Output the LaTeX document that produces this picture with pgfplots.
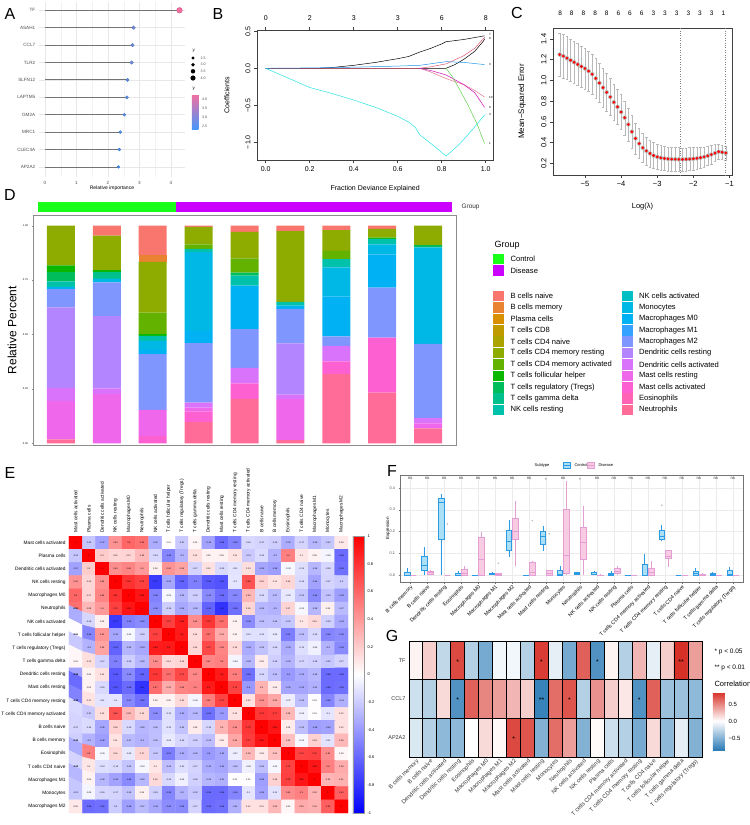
\documentclass[border=0pt]{standalone}
\usepackage{fontspec}
\setmainfont{Liberation Sans}
\usepackage{pgfplots}
\usepackage{pgfplotstable}
\pgfplotsset{compat=1.18}
\usepgfplotslibrary{statistics}
\newcommand\fs[1]{\fontsize{#1}{#1}\selectfont}
\definecolor{cBn}{HTML}{F8766D}\definecolor{cBm}{HTML}{EA8331}\definecolor{cPc}{HTML}{D89000}
\definecolor{cCe}{HTML}{C09B00}\definecolor{cCn}{HTML}{ABA300}\definecolor{cCr}{HTML}{8EAB00}
\definecolor{cCa}{HTML}{64B200}\definecolor{cTf}{HTML}{0CB702}\definecolor{cTr}{HTML}{00BD5C}
\definecolor{cTg}{HTML}{00C08B}\definecolor{cNr}{HTML}{00C1AA}\definecolor{cNa}{HTML}{00BFC4}
\definecolor{cMo}{HTML}{00B8E5}\definecolor{cMz}{HTML}{00B1F4}\definecolor{cMi}{HTML}{35A2FF}
\definecolor{cMt}{HTML}{7F96FF}\definecolor{cDr}{HTML}{B385FF}\definecolor{cDa}{HTML}{D973FC}
\definecolor{cSr}{HTML}{EF67EB}\definecolor{cSa}{HTML}{FD61D1}\definecolor{cEo}{HTML}{FF63B6}
\definecolor{cNe}{HTML}{FF6C98}
\definecolor{gcon}{HTML}{1AFF1A}\definecolor{gdis}{HTML}{CC00FF}
\definecolor{rred}{HTML}{DF536B}\definecolor{rgreen}{HTML}{61D04F}\definecolor{rblue}{HTML}{2297E6}
\definecolor{rcyan}{HTML}{28E2E5}\definecolor{rmag}{HTML}{CD0BBC}
\definecolor{ctlD}{HTML}{2D9BE3}\definecolor{ctlF}{HTML}{AADFF5}
\definecolor{disD}{HTML}{E39FD3}\definecolor{disF}{HTML}{F9CBE3}
\pgfplotsset{
  /pgf/number format/assume math mode=true,
  every axis/.append style={scale only axis, anchor=north west},
  rbase/.style={axis line style={black!75, line width=0.45pt}, tick style={black!75, line width=0.45pt},
    tick align=outside, major tick length=3pt, xtick pos=bottom, ytick pos=left,
    ticklabel style={font=\fs{7}}, label style={font=\fs{7}}, yticklabel style={rotate=90, anchor=south}},
  ctl/.style={draw=ctlD, fill=ctlF, line width=0.4pt},
  dis/.style={draw=disD, fill=disF, line width=0.4pt},
}
\newcommand\bp[7]{\addplot[#1, boxplot prepared={draw direction=y, draw position=#2, lower whisker=#3, lower quartile=#4, median=#5, upper quartile=#6, upper whisker=#7}] coordinates {};}

\pgfplotstableread{
g v
1 2.33
2 2.36
3 2.39
4 2.52
5 2.60
6 2.62
7 2.75
8 2.78
9 2.81
10 4.27
}\Atab

\pgfplotstableread{
x y e
-5.7 1.25 0.21
-5.6 1.235 0.21
-5.5 1.215 0.208
-5.4 1.195 0.206
-5.3 1.175 0.204
-5.2 1.155 0.202
-5.1 1.135 0.2
-5.0 1.115 0.198
-4.9 1.09 0.195
-4.8 1.06 0.192
-4.7 1.02 0.19
-4.6 0.975 0.187
-4.5 0.93 0.184
-4.4 0.885 0.181
-4.3 0.84 0.178
-4.2 0.79 0.175
-4.1 0.745 0.172
-4.0 0.695 0.168
-3.9 0.64 0.164
-3.8 0.575 0.16
-3.7 0.505 0.155
-3.6 0.44 0.15
-3.5 0.39 0.145
-3.4 0.35 0.14
-3.3 0.32 0.135
-3.2 0.295 0.13
-3.1 0.275 0.126
-3.0 0.262 0.123
-2.9 0.253 0.12
-2.8 0.247 0.118
-2.7 0.243 0.116
-2.6 0.24 0.115
-2.5 0.239 0.114
-2.4 0.238 0.113
-2.3 0.238 0.112
-2.2 0.239 0.111
-2.1 0.241 0.11
-2.0 0.244 0.108
-1.9 0.248 0.105
-1.8 0.254 0.102
-1.7 0.262 0.098
-1.6 0.272 0.093
-1.5 0.284 0.088
-1.4 0.298 0.082
-1.3 0.312 0.076
-1.2 0.307 0.07
-1.1 0.3 0.066
}\Ctab

\pgfplotstableread{
x Bn Bm Pc Ce Cn Cr Ca Tf Tr Tg Nr Na Mo Mz Mi Mt Dr Da Sr Sa Eo Ne
1 0 0 0 0 0 0.183 0 0.03 0.043 0 0.026 0 0 0.01 0 0.084 0.369 0.061 0.176 0 0 0.018
2 0.046 0 0 0 0 0.158 0 0.011 0 0.028 0 0 0.018 0 0 0.155 0.332 0.026 0.226 0 0 0
3 0.135 0.031 0 0 0 0.234 0.098 0.008 0 0 0.023 0 0.043 0.018 0 0.257 0 0 0.119 0.034 0 0
4 0.006 0 0 0 0 0.08 0.021 0 0 0 0.015 0 0.361 0.057 0 0.273 0 0.023 0.018 0.049 0 0.097
5 0.028 0 0 0 0 0.122 0.066 0 0.014 0 0.046 0 0 0.199 0 0.178 0 0.072 0 0.071 0 0.204
6 0.025 0 0 0 0 0.325 0 0 0 0 0.018 0 0 0.014 0 0.159 0.236 0.02 0.188 0 0 0.015
7 0.02 0 0 0 0 0.096 0.038 0 0 0 0.038 0 0.133 0.184 0 0.043 0 0.072 0 0.058 0 0.318
8 0.015 0 0 0 0 0.04 0 0.006 0 0 0.025 0 0.046 0.153 0 0.23 0 0 0 0.252 0 0.233
9 0 0 0 0 0 0.089 0 0 0.011 0 0 0 0.443 0 0 0.34 0 0.026 0.022 0 0 0.069
}\Dtab

\pgfplotstableread[row sep=\\, header=false]{
1\\-0.22\\-0.37\\0.43\\0.6\\0.56\\-0.32\\0.01\\-0.21\\0.03\\-0.36\\-0.58\\-0.49\\-0.15\\-0.17\\-0.19\\-0.32\\-0.17\\-0.28\\-0.22\\0.09\\
-0.22\\1\\0.2\\0.16\\0.17\\0.28\\-0.16\\-0.48\\-0.3\\0.13\\0.05\\0.05\\0.11\\-0.21\\-0.14\\-0.3\\0.5\\0.1\\0.05\\-0.04\\-0.58\\
-0.37\\0.2\\1\\0.44\\0.48\\0.4\\0.06\\0.42\\0.36\\-0.17\\0.12\\-0.15\\-0.11\\0.13\\-0.35\\-0.38\\-0.03\\-0.13\\-0.28\\-0.16\\-0.56\\
0.43\\0.16\\0.44\\1\\0.81\\0.75\\-0.77\\-0.35\\-0.61\\-0.5\\-0.65\\-0.67\\-0.1\\0.68\\0.18\\0.11\\0.16\\-0.14\\-0.36\\-0.17\\-0.2\\
0.6\\0.17\\0.48\\0.81\\1\\0.92\\-0.49\\-0.03\\-0.29\\-0.19\\-0.46\\-0.58\\-0.47\\0.28\\-0.15\\-0.27\\-0.09\\-0.23\\-0.46\\-0.24\\-0.38\\
0.56\\0.28\\0.4\\0.75\\0.92\\1\\-0.46\\-0.19\\-0.34\\-0.28\\-0.61\\-0.8\\-0.56\\0.16\\-0.28\\-0.3\\0.17\\-0.03\\-0.28\\0.06\\-0.27\\
-0.32\\-0.16\\0.06\\-0.77\\-0.49\\-0.46\\1\\0.75\\0.89\\0.45\\0.79\\0.57\\0.05\\-0.45\\-0.26\\-0.25\\-0.22\\0.1\\0.15\\-0.18\\-0.34\\
0.01\\-0.48\\0.42\\-0.35\\-0.03\\-0.19\\0.75\\1\\0.9\\0.14\\0.57\\0.33\\0.05\\-0.12\\-0.12\\-0.09\\-0.51\\-0.26\\-0.15\\-0.48\\-0.45\\
-0.21\\-0.3\\0.36\\-0.61\\-0.29\\-0.34\\0.89\\0.9\\1\\0.16\\0.72\\0.48\\0.15\\-0.33\\-0.24\\-0.16\\-0.33\\-0.13\\-0.06\\-0.3\\-0.46\\
0.03\\0.13\\-0.17\\-0.5\\-0.19\\-0.28\\0.45\\0.14\\0.16\\1\\0.47\\0.5\\-0.04\\-0.28\\0.08\\-0.19\\-0.29\\-0.17\\-0.18\\-0.22\\-0.17\\
-0.36\\0.05\\0.12\\-0.65\\-0.46\\-0.61\\0.79\\0.57\\0.72\\0.47\\1\\0.9\\0.51\\-0.56\\-0.16\\-0.26\\-0.4\\-0.33\\-0.28\\-0.58\\-0.58\\
-0.58\\0.05\\-0.15\\-0.67\\-0.58\\-0.8\\0.57\\0.33\\0.48\\0.5\\0.9\\1\\0.74\\-0.4\\0.3\\0.08\\-0.35\\-0.35\\-0.31\\-0.58\\-0.56\\
-0.49\\0.11\\-0.11\\-0.1\\-0.47\\-0.56\\0.05\\0.05\\0.15\\-0.04\\0.51\\0.74\\1\\0.12\\0.44\\0.35\\-0.07\\-0.25\\0.01\\-0.48\\-0.31\\
-0.15\\-0.21\\0.13\\0.68\\0.28\\0.16\\-0.45\\-0.12\\-0.33\\-0.28\\-0.56\\-0.4\\0.12\\1\\0.79\\0.77\\0.28\\-0.06\\0.01\\-0.1\\0.12\\
-0.17\\-0.14\\-0.35\\0.18\\-0.15\\-0.28\\-0.26\\-0.12\\-0.24\\0.08\\-0.16\\0.3\\0.44\\0.79\\1\\0.92\\0.08\\-0.25\\-0.38\\-0.36\\0.12\\
-0.19\\-0.3\\-0.38\\0.11\\-0.27\\-0.3\\-0.25\\-0.09\\-0.16\\-0.19\\-0.26\\0.08\\0.35\\0.77\\0.92\\1\\0.25\\-0.03\\0.18\\-0.11\\0.28\\
-0.32\\0.5\\-0.03\\0.16\\-0.09\\0.17\\-0.22\\-0.51\\-0.33\\-0.29\\-0.4\\-0.35\\-0.07\\0.28\\0.08\\0.25\\1\\0.74\\0.75\\0.45\\0.03\\
-0.17\\0.1\\-0.13\\-0.14\\-0.23\\-0.03\\0.1\\-0.26\\-0.13\\-0.17\\-0.33\\-0.35\\-0.25\\-0.06\\-0.25\\-0.03\\0.74\\1\\0.92\\0.5\\0.33\\
-0.28\\0.05\\-0.28\\-0.36\\-0.46\\-0.28\\0.15\\-0.15\\-0.06\\-0.18\\-0.28\\-0.31\\0.01\\0.01\\-0.38\\0.18\\0.75\\0.92\\1\\0.29\\0.31\\
-0.22\\-0.04\\-0.16\\-0.17\\-0.24\\0.06\\-0.18\\-0.48\\-0.3\\-0.22\\-0.58\\-0.58\\-0.48\\-0.1\\-0.36\\-0.11\\0.45\\0.5\\0.29\\1\\0.63\\
0.09\\-0.58\\-0.56\\-0.2\\-0.38\\-0.27\\-0.34\\-0.45\\-0.46\\-0.17\\-0.58\\-0.56\\-0.31\\0.12\\0.12\\0.28\\0.03\\0.33\\0.31\\0.63\\1\\
}\Etab

\pgfplotstableread[row sep=\\, header=false]{
0.05\\0.2\\-0.25\\0.75\\-0.3\\-0.55\\-0.05\\-0.05\\-0.3\\0.8\\-0.1\\-0.55\\0.65\\-0.7\\0.05\\-0.3\\0.3\\-0.1\\0.2\\0.85\\0.4\\
-0.2\\-0.3\\0.15\\-0.7\\0.65\\0.5\\0.4\\0.3\\0.2\\-0.8\\0.6\\0.7\\-0.3\\0.45\\0.2\\0.1\\-0.7\\0.65\\-0.4\\-0.4\\-0.45\\
-0.15\\-0.3\\-0.45\\-0.45\\0\\0.15\\0.03\\0.75\\0.7\\-0.5\\0.6\\0.4\\-0.5\\0.02\\-0.2\\-0.3\\-0.55\\0.15\\-0.45\\-0.1\\-0.5\\
}\Gtab

\begin{document}
\begin{tikzpicture}
\useasboundingbox (0,0) rectangle (750pt,-825pt);
% ================= A
\begin{axis}[at={(38.7pt,-1.6pt)}, width=146.5pt, height=175.8pt,
  xmin=-0.2, xmax=4.45, ymin=0.4, ymax=10.5,
  axis line style={draw=none}, tick style={draw=none}, major tick length=0pt,
  xtick={0,1,2,3,4}, minor xtick={0.5,1.5,2.5,3.5}, ytick={1,...,10},
  yticklabels={AP2A2,CLEC4A,MRC1,GM2A,LAPTM5,SLFN12,TLR2,CCL7,ASAH1,TF},
  xmajorgrids, ymajorgrids, xminorgrids,
  major grid style={black!9, line width=0.5pt}, minor grid style={black!5, line width=0.3pt},
  ticklabel style={font=\fs{4.6}, text=black!70},
  xlabel={Relative importance}, xlabel style={font=\fs{5}, at={(axis description cs:0.5,0)}, anchor=center, yshift=-10.6pt},
  colormap={ab}{rgb255(0cm)=(70,150,250) rgb255(1cm)=(245,110,160)},
  point meta min=2.33, point meta max=4.27,
  colorbar, colorbar style={at={(1.0464,0.4744)}, anchor=north west, width=6.5pt, height=35pt,
    ytick={2.5,3,3.5,4}, yticklabels={2.5,3.0,3.5,4.0}, yticklabel style={font=\fs{3.6}, text=black!70},
    axis line style={draw=none}, major tick length=0pt},
  clip=false]
\addplot[xcomb, black!55, line width=0.9pt] table[x=v,y=g]{\Atab};
\addplot[scatter, only marks, mark=*, point meta=x, visualization depends on={\thisrow{v} \as \rawv},
  scatter/@pre marker code/.append style={/tikz/mark size=0.72*\rawv-0.28}] table[x=v,y=g]{\Atab};
\end{axis}
\node[font=\fs{4.5}, anchor=west] at (189pt,-51pt) {y};
\fill[black] (193pt,-58pt) circle (1.52pt); \node[font=\fs{3.6}, anchor=west, text=black!70] at (197pt,-58pt) {2.5};
\fill[black] (193pt,-64.7pt) circle (1.88pt); \node[font=\fs{3.6}, anchor=west, text=black!70] at (197pt,-64.7pt) {3.0};
\fill[black] (193pt,-71.3pt) circle (2.24pt); \node[font=\fs{3.6}, anchor=west, text=black!70] at (197pt,-71.3pt) {3.5};
\fill[black] (193pt,-78pt) circle (2.6pt); \node[font=\fs{3.6}, anchor=west, text=black!70] at (197pt,-78pt) {4.0};
\node[font=\fs{4.5}, anchor=west] at (189pt,-89pt) {y};
\node[font=\fs{16}] at (10pt,-14pt) {A};
% ================= B
\begin{axis}[rbase, at={(256.9pt,-29.9pt)}, width=236.5pt, height=130.3pt,
  xmin=-0.04, xmax=1.035, ymin=-1.245, ymax=0.52, xtick pos=both,
  xtick={0,0.2,0.4,0.6,0.8,1}, xticklabels={0.0,0.2,0.4,0.6,0.8,1.0},
  ytick={-1,-0.5,0,0.5}, yticklabels={−1.0,−0.5,0.0,0.5},
  xlabel={Fraction Deviance Explained}, ylabel={Coefficients},
  xlabel style={at={(axis description cs:0.5,0)}, anchor=center, yshift=-28pt},
  ylabel style={at={(axis description cs:0,0.5)}, anchor=center, yshift=30pt},
  clip=false]
\addplot[black, line width=0.5pt] coordinates {(0,0) (0.25,0) (0.3,0.01) (0.4,0.04) (0.5,0.08) (0.6,0.13) (0.65,0.16) (0.7,0.22) (0.75,0.27) (0.8,0.33) (0.82,0.36) (0.9,0.39) (0.995,0.44)};
\addplot[black, line width=0.5pt] coordinates {(0,0) (0.82,0) (0.86,0.05) (0.9,0.12) (0.95,0.23) (0.99,0.37) (0.995,0.40)};
\addplot[rred, line width=0.5pt] coordinates {(0,0) (0.7,0) (0.75,0.02) (0.82,0.06) (0.9,0.17) (0.95,0.27) (0.995,0.42)};
\addplot[rblue, line width=0.5pt] coordinates {(0,0) (0.2,0.005) (0.4,0.015) (0.6,0.03) (0.7,0.04) (0.82,0.09) (0.9,0.08) (0.995,0.05)};
\addplot[rred!80, line width=0.5pt] coordinates {(0.7,0) (0.75,-0.05) (0.82,-0.14) (0.9,-0.22) (0.95,-0.3) (0.995,-0.39)};
\addplot[rmag, line width=0.5pt] coordinates {(0.7,0) (0.75,-0.03) (0.82,-0.09) (0.9,-0.22) (0.95,-0.33) (0.995,-0.53)};
\addplot[rgreen, line width=0.5pt] coordinates {(0.82,0) (0.85,-0.12) (0.88,-0.28) (0.92,-0.5) (0.96,-0.75) (0.995,-1.02)};
\addplot[rcyan, line width=0.5pt] coordinates {(0,0) (0.1,-0.13) (0.2,-0.26) (0.3,-0.34) (0.4,-0.43) (0.5,-0.53) (0.6,-0.65) (0.65,-0.73) (0.68,-0.8) (0.7,-0.9) (0.76,-1.04) (0.82,-1.19) (0.88,-1.03) (0.94,-0.83) (0.995,-0.63)};
\addplot[draw=none, mark=none, nodes near coords, point meta=explicit symbolic,
  every node near coord/.append style={anchor=center, yshift=12pt, font=\fs{7}}]
  table[meta=t, row sep=\\]{x y t\\ 0 0.52 0\\ 0.2 0.52 2\\ 0.4 0.52 3\\ 0.6 0.52 3\\ 0.8 0.52 6\\ 1 0.52 8\\};
\addplot[draw=none, mark=none, nodes near coords, point meta=explicit symbolic,
  every node near coord/.append style={anchor=west, font=\fs{3}}]
  table[meta=t, row sep=\\]{x y t\\ 1.0 0.455 7\\ 1.0 0.405 8\\ 1.0 0.05 3\\ 1.0 -0.39 10\\ 1.0 -0.53 9\\ 1.0 -0.63 4\\ 1.0 -1.02 1\\};
\end{axis}
\node[font=\fs{16}] at (218pt,-14pt) {B};
% ================= C
\begin{axis}[rbase, at={(553pt,-28pt)}, width=179pt, height=147pt,
  xmin=-5.886, xmax=-0.928, ymin=0.087, ymax=1.506,
  ticklabel style={font=\fs{7.5}},
  xtick={-5,-4,-3,-2,-1}, xticklabels={−5,−4,−3,−2,−1},
  ytick={0.2,0.4,0.6,0.8,1.0,1.2,1.4}, yticklabels={0.2,0.4,0.6,0.8,1.0,1.2,1.4},
  xlabel={Log(λ)}, ylabel={Mean−Squared Error},
  xlabel style={font=\fs{7.5}, at={(axis description cs:0.5,0)}, anchor=center, yshift=-32pt},
  ylabel style={font=\fs{8}, at={(axis description cs:0,0.5)}, anchor=center, yshift=31pt},
  clip=false]
\addplot[black!28, only marks, mark=none, error bars/.cd, y dir=both, y explicit,
  error bar style={black!28, line width=0.35pt}, error mark options={rotate=90, mark size=1.3pt, black!28}]
  table[x=x, y=y, y error=e]{\Ctab};
\addplot[only marks, mark=*, mark size=1.2pt, mark options={fill=red, draw=red}] table[x=x,y=y]{\Ctab};
\addplot[dotted, black!50, line width=0.4pt] coordinates {(-2.37,0.087) (-2.37,1.506)};
\addplot[dotted, black!50, line width=0.4pt] coordinates {(-1.11,0.087) (-1.11,1.506)};
\addplot[draw=none, mark=none, nodes near coords, point meta=explicit symbolic,
  every node near coord/.append style={anchor=center, yshift=15pt, font=\fs{6.5}}]
  table[meta=t, row sep=\\]{x y t\\ -5.69 1.506 8\\ -5.367 1.506 8\\ -5.044 1.506 8\\ -4.721 1.506 8\\ -4.398 1.506 8\\ -4.075 1.506 6\\ -3.752 1.506 6\\ -3.429 1.506 6\\ -3.106 1.506 3\\ -2.783 1.506 3\\ -2.46 1.506 3\\ -2.137 1.506 3\\ -1.814 1.506 3\\ -1.491 1.506 3\\ -1.168 1.506 1\\};
\end{axis}
\node[font=\fs{16}] at (517pt,-13pt) {C};
% ================= D
\fill[gcon] (38pt,-202pt) rectangle (176pt,-212pt);
\fill[gdis] (176pt,-202pt) rectangle (452pt,-212pt);
\node[font=\fs{6.5}, anchor=west, text=black!80] at (458pt,-207pt) {Group};
\begin{axis}[at={(33pt,-215pt)}, width=423pt, height=230pt,
  xmin=0.39, xmax=9.61, ymin=-0.008, ymax=1.049, ybar stacked, bar width=28pt,
  xtick=\empty, ytick={0,0.25,0.5,0.75,1}, yticklabels={0.00,0.25,0.50,0.75,1.00},
  yticklabel style={font=\fs{2.6}}, axis line style={black!45, line width=0.5pt},
  ytick style={black!45}, major tick length=1.5pt, tick align=outside, ytick pos=left,
  ylabel={Relative Percent}, ylabel style={font=\fs{12}, at={(axis description cs:0,0.5)}, anchor=center, yshift=21pt}]
\pgfplotsinvokeforeach{Ne,Eo,Sa,Sr,Da,Dr,Mt,Mi,Mz,Mo,Na,Nr,Tg,Tr,Tf,Ca,Cr,Cn,Ce,Pc,Bm,Bn}{
  \addplot[fill=c#1, draw=none] table[x=x, y=#1]{\Dtab};}
\end{axis}
\node[font=\fs{16}] at (10pt,-195pt) {D};
\node[font=\fs{9}, anchor=west] at (491pt,-245pt) {Group};
\fill[gcon] (493.3pt,-253.8pt) rectangle (504.3pt,-264.4pt); \node[font=\fs{7.6}, anchor=west] at (507pt,-259pt) {Control};
\fill[gdis] (493.3pt,-265.2pt) rectangle (504.3pt,-275.8pt); \node[font=\fs{7.6}, anchor=west] at (507pt,-270.5pt) {Disease};
\foreach \c/\t [count=\i from 0] in {cBn/B cells naive, cBm/B cells memory, cPc/Plasma cells, cCe/T cells CD8, cCn/T cells CD4 naive, cCr/T cells CD4 memory resting, cCa/T cells CD4 memory activated, cTf/T cells follicular helper, cTr/T cells regulatory (Tregs), cTg/T cells gamma delta, cNr/NK cells resting}{
  \fill[\c] (493.3pt,{-290.7pt-11.4pt*\i}) rectangle ++(11pt,-10.6pt);
  \node[font=\fs{7.6}, anchor=west] at (507pt,{-296pt-11.4pt*\i}) {\t};}
\foreach \c/\t [count=\i from 0] in {cNa/NK cells activated, cMo/Monocytes, cMz/Macrophages M0, cMi/Macrophages M1, cMt/Macrophages M2, cDr/Dendritic cells resting, cDa/Dendritic cells activated, cSr/Mast cells resting, cSa/Mast cells activated, cEo/Eosinophils, cNe/Neutrophils}{
  \fill[\c] (621.7pt,{-290.7pt-11.4pt*\i}) rectangle ++(11pt,-10.6pt);
  \node[font=\fs{7.6}, anchor=west] at (635.5pt,{-296pt-11.4pt*\i}) {\t};}
% ================= E
\begin{axis}[at={(69pt,-536pt)}, width=279pt, height=277pt,
  xmin=-0.5, xmax=20.5, ymin=-0.5, ymax=20.5, y dir=reverse,
  axis line style={draw=none}, tick style={draw=none}, major tick length=0pt,
  xtick={0,...,20}, ytick={0,...,20}, xticklabel pos=upper,
  xticklabels={Mast cells activated,Plasma cells,Dendritic cells activated,NK cells resting,Macrophages M0,Neutrophils,NK cells activated,T cells follicular helper,T cells regulatory (Tregs),T cells gamma delta,Dendritic cells resting,Mast cells resting,T cells CD4 memory resting,T cells CD4 memory activated,B cells naive,B cells memory,Eosinophils,T cells CD4 naive,Macrophages M1,Monocytes,Macrophages M2},
  yticklabels={Mast cells activated,Plasma cells,Dendritic cells activated,NK cells resting,Macrophages M0,Neutrophils,NK cells activated,T cells follicular helper,T cells regulatory (Tregs),T cells gamma delta,Dendritic cells resting,Mast cells resting,T cells CD4 memory resting,T cells CD4 memory activated,B cells naive,B cells memory,Eosinophils,T cells CD4 naive,Macrophages M1,Monocytes,Macrophages M2},
  xticklabel style={rotate=90, anchor=west, font=\fs{4.8}}, yticklabel style={font=\fs{4.8}},
  colormap={bwr}{rgb(0cm)=(0,0,1) rgb(1cm)=(1,1,1) rgb(2cm)=(1,0,0)},
  point meta min=-1, point meta max=1,
  colorbar, colorbar style={at={(1.0179,1)}, anchor=north west, width=11pt,
    ytick={-1,-0.8,-0.6,-0.4,-0.2,0,0.2,0.4,0.6,0.8,1}, yticklabel style={font=\fs{4}},
    major tick length=0pt, axis line style={black!40, line width=0.3pt}}]
\addplot[matrix plot*, mesh/cols=21, point meta=explicit]
  table[x index=0, y index=0, x expr={mod(\coordindex,21)}, y expr={floor(\coordindex/21)}, meta index=0]{\Etab};
\addplot[draw=none, mark=none, point meta=explicit,
  nodes near coords={\pgfmathprintnumber[fixed,precision=2]{\pgfplotspointmeta}},
  every node near coord/.append style={anchor=center, font=\fs{2.2}, inner sep=0pt}]
  table[x index=0, y index=0, x expr={mod(\coordindex,21)}, y expr={floor(\coordindex/21)}, meta index=0]{\Etab};
\end{axis}
\node[font=\fs{16}] at (10pt,-473pt) {E};
% ================= F
\node[font=\fs{4}] at (542pt,-465pt) {Subtype};
\filldraw[ctlD, fill=ctlF, line width=0.4pt] (563pt,-462pt) rectangle (570pt,-468pt);
\draw[ctlD, line width=0.6pt] (563pt,-465pt) -- (570pt,-465pt);
\node[font=\fs{4}, anchor=west] at (571pt,-465pt) {Control};
\filldraw[disD, fill=disF, line width=0.4pt] (587pt,-462pt) rectangle (594pt,-468pt);
\draw[disD, line width=0.6pt] (587pt,-465pt) -- (594pt,-465pt);
\node[font=\fs{4}, anchor=west] at (595pt,-465pt) {Disease};
\begin{axis}[at={(400pt,-475pt)}, width=343pt, height=107pt,
  xmin=-0.6, xmax=19.6, ymin=-0.03, ymax=0.458,
  boxplot/draw direction=y, boxplot/box extend=0.33, boxplot/whisker extend=0, boxplot/every median/.style={line width=0.8pt},
  xtick={0,...,19}, ytick={0,0.1,0.2,0.3,0.4}, yticklabels={0.0,0.1,0.2,0.3,0.4},
  xticklabels={B cells memory,B cells naive,Dendritic cells resting,Eosinophils,Macrophages M0,Macrophages M1,Macrophages M2,Mast cells activated,Mast cells resting,Monocytes,Neutrophils,NK cells activated,NK cells resting,Plasma cells,T cells CD4 memory activated,T cells CD4 memory resting,T cells CD4 naive,T cells follicular helper,T cells gamma delta,T cells regulatory (Tregs)},
  xticklabel style={rotate=45, anchor=north east, font=\fs{5.2}, inner sep=1pt},
  yticklabel style={font=\fs{3.8}, text=black!70},
  grid=major, grid style={black!8, line width=0.3pt},
  axis line style={black!55, line width=0.4pt}, tick style={black!55}, major tick length=1.5pt, tick align=outside,
  xtick pos=bottom, ytick pos=left,
  ylabel={Expression}, ylabel style={font=\fs{4.5}, at={(axis description cs:0,0.5)}, anchor=center, yshift=12pt}]
\bp{ctl}{-0.19}{0}{0}{0.002}{0.015}{0.033}\bp{dis}{0.19}{0}{0}{0}{0}{0.001}
\bp{ctl}{0.81}{0}{0.023}{0.045}{0.088}{0.13}\bp{dis}{1.19}{0}{0.007}{0.013}{0.02}{0.024}
\bp{ctl}{1.81}{0}{0.165}{0.332}{0.35}{0.37}\bp{dis}{2.19}{0}{0}{0}{0}{0.001}
\bp{ctl}{2.81}{0}{0}{0.002}{0.01}{0.018}\bp{dis}{3.19}{0}{0.002}{0.008}{0.028}{0.045}
\bp{ctl}{3.81}{0}{0}{0}{0.001}{0.002}\bp{dis}{4.19}{0}{0}{0.073}{0.175}{0.198}
\bp{ctl}{4.81}{0.005}{0.007}{0.01}{0.012}{0.014}\bp{dis}{5.19}{0}{0}{0.005}{0.01}{0.012}
\bp{ctl}{5.81}{0.083}{0.115}{0.155}{0.205}{0.255}\bp{dis}{6.19}{0.045}{0.163}{0.203}{0.262}{0.34}
\bp{ctl}{6.81}{0}{0}{0}{0.001}{0.002}\bp{dis}{7.19}{0}{0.002}{0.012}{0.06}{0.068}
\bp{ctl}{7.81}{0.11}{0.143}{0.177}{0.2}{0.227}\bp{dis}{8.19}{0}{0}{0.008}{0.023}{0.023}
\bp{ctl}{8.81}{0}{0}{0.005}{0.022}{0.043}\bp{dis}{9.19}{0}{0.008}{0.09}{0.3}{0.43}
\bp{ctl}{9.81}{0}{0.005}{0.01}{0.015}{0.017}\bp{dis}{10.19}{0}{0.072}{0.15}{0.222}{0.318}
\bp{ctl}{10.81}{0}{0.007}{0.012}{0.017}{0.018}\bp{dis}{11.19}{0}{0}{0}{0.002}{0.008}
\bp{ctl}{11.81}{0}{0}{0.003}{0.01}{0.02}\bp{dis}{12.19}{0.004}{0.01}{0.02}{0.032}{0.043}
\bp{ctl}{12.81}{0}{0}{0}{0}{0.001}\bp{dis}{13.19}{0}{0}{0}{0}{0.001}
\bp{ctl}{13.81}{0}{0}{0.001}{0.05}{0.098}\bp{dis}{14.19}{0}{0.003}{0.013}{0.035}{0.065}
\bp{ctl}{14.81}{0.155}{0.165}{0.178}{0.205}{0.232}\bp{dis}{15.19}{0.04}{0.077}{0.088}{0.115}{0.118}
\bp{ctl}{15.81}{0}{0}{0}{0}{0.001}\bp{dis}{16.19}{0}{0}{0}{0}{0.001}
\bp{ctl}{16.81}{0}{0.003}{0.01}{0.018}{0.032}\bp{dis}{17.19}{0}{0}{0.002}{0.005}{0.01}
\bp{ctl}{17.81}{0}{0}{0.003}{0.01}{0.017}\bp{dis}{18.19}{0}{0}{0}{0}{0.001}
\bp{ctl}{18.81}{0}{0.002}{0.006}{0.022}{0.038}\bp{dis}{19.19}{0}{0}{0}{0}{0.001}
\addplot[only marks, mark=*, mark size=0.6pt, black!25] coordinates {(2.19,0.235) (5.19,0.055) (7.19,0.25) (8.19,0.19) (14.81,0.32)};
\addplot[draw=none, mark=none, nodes near coords, point meta=explicit symbolic,
  every node near coord/.append style={anchor=center, font=\fs{4.2}, text=black!80}]
  table[meta=t, row sep=\\]{x y t\\ 0 0.441 ns\\ 1 0.441 ns\\ 2 0.441 ns\\ 3 0.441 ns\\ 4 0.441 ns\\ 5 0.441 ns\\ 6 0.441 ns\\ 7 0.441 ns\\ 8 0.436 *\\ 9 0.441 ns\\ 10 0.436 *\\ 11 0.441 ns\\ 12 0.441 ns\\ 13 0.441 ns\\ 14 0.441 ns\\ 15 0.441 ns\\ 16 0.441 ns\\ 17 0.441 ns\\ 18 0.441 ns\\ 19 0.441 ns\\};
\end{axis}
\node[font=\fs{16}] at (392pt,-471pt) {F};
% ================= G
\begin{axis}[at={(409pt,-641pt)}, width=293pt, height=116pt,
  xmin=-0.5, xmax=20.5, ymin=-0.5, ymax=2.5, y dir=reverse, axis on top,
  xtick={0,...,20}, ytick={0,1,2}, yticklabels={TF,CCL7,AP2A2},
  xticklabels={B cells memory,B cells naive,Dendritic cells activated,Dendritic cells resting,Eosinophils,Macrophages M0,Macrophages M1,Macrophages M2,Mast cells activated,Mast cells resting,Monocytes,Neutrophils,NK cells activated,NK cells resting,Plasma cells,T cells CD4 memory activated,T cells CD4 memory resting,T cells CD4 naive,T cells follicular helper,T cells gamma delta,T cells regulatory (Tregs)},
  minor xtick={-0.5,0.5,...,20.5}, minor ytick={-0.5,0.5,1.5,2.5},
  grid=minor, minor grid style={black, line width=1pt},
  major tick length=0pt, minor tick length=0pt, tick style={draw=none},
  axis line style={black, line width=1pt},
  xticklabel style={rotate=45, anchor=north east, font=\fs{5.8}, text=black!80, inner sep=1pt},
  yticklabel style={font=\fs{5.5}, text=black!80},
  colormap={rdbu}{rgb255(0cm)=(44,123,182) rgb255(1cm)=(255,255,255) rgb255(2cm)=(215,48,39)},
  point meta min=-0.85, point meta max=0.85,
  colorbar, colorbar style={at={(1.0375,0.5603)}, anchor=north west, width=12pt, height=58pt,
    ytick={-0.5,0,0.5}, yticklabels={−0.5,0.0,0.5}, yticklabel style={font=\fs{6}},
    major tick length=0pt, axis line style={draw=none}, grid=none}]
\addplot[matrix plot*, mesh/cols=21, point meta=explicit]
  table[x index=0, y index=0, x expr={mod(\coordindex,21)}, y expr={floor(\coordindex/21)}, meta index=0]{\Gtab};
\addplot[draw=none, mark=none, nodes near coords, point meta=explicit symbolic,
  every node near coord/.append style={anchor=center, font=\fs{7}, yshift=-1.5pt}]
  table[meta=t, row sep=\\]{x y t\\ 3 0 *\\ 9 0 *\\ 13 0 *\\ 19 0 **\\ 3 1 *\\ 9 1 **\\ 11 1 *\\ 16 1 *\\ 7 2 *\\};
\end{axis}
\node[font=\fs{6.5}, anchor=west] at (711pt,-652pt) {* p < 0.05};
\node[font=\fs{6.5}, anchor=west] at (711pt,-668pt) {** p < 0.01};
\node[font=\fs{7.5}, anchor=west] at (711pt,-684pt) {Correlation};
\node[font=\fs{16}] at (392pt,-636pt) {G};
\end{tikzpicture}
\end{document}
